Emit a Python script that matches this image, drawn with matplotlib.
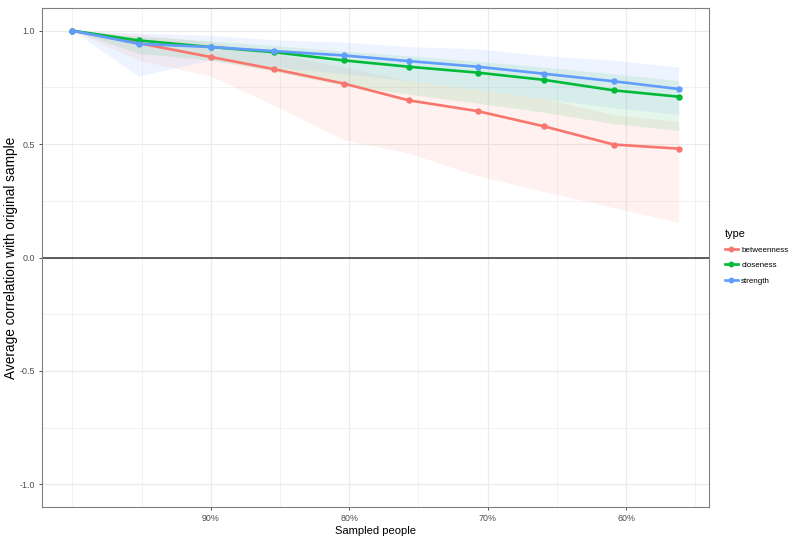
import matplotlib
matplotlib.use("Agg")
import matplotlib.pyplot as plt
from matplotlib.lines import Line2D

plt.rcParams['font.family'] = ['Liberation Sans', 'DejaVu Sans']

# Data (percent of people sampled)
sampled = [100.0, 95.2, 90.0, 85.4, 80.4, 75.7, 70.7, 65.9, 60.9, 56.2]

betweenness = [1.0, 0.945, 0.884, 0.830, 0.767, 0.693, 0.645, 0.578, 0.498, 0.480]
betweenness_lo = [1.0, 0.87, 0.80, 0.67, 0.52, 0.46, 0.36, 0.29, 0.22, 0.155]
betweenness_hi = [1.0, 0.985, 0.95, 0.90, 0.84, 0.78, 0.74, 0.70, 0.63, 0.60]

closeness = [1.0, 0.957, 0.928, 0.905, 0.869, 0.841, 0.815, 0.783, 0.737, 0.709]
closeness_lo = [1.0, 0.90, 0.87, 0.82, 0.76, 0.72, 0.68, 0.64, 0.59, 0.56]
closeness_hi = [1.0, 0.975, 0.955, 0.935, 0.91, 0.89, 0.865, 0.84, 0.81, 0.78]

strength = [1.0, 0.942, 0.928, 0.910, 0.891, 0.866, 0.841, 0.810, 0.777, 0.743]
strength_lo = [1.0, 0.80, 0.87, 0.84, 0.81, 0.78, 0.74, 0.70, 0.66, 0.63]
strength_hi = [1.0, 0.99, 0.98, 0.96, 0.95, 0.93, 0.92, 0.89, 0.87, 0.84]

types = ["betweenness", "closeness", "strength"]
colors = ["#F8766D", "#00BA38", "#619CFF"]

x_major = [90, 80, 70, 60]
x_major_labels = ["90%", "80%", "70%", "60%"]
x_minor = [100, 95, 85, 75, 65, 55]
y_major = [-1.0, -0.5, 0.0, 0.5, 1.0]
y_major_labels = ["-1.0", "-0.5", "0.0", "0.5", "1.0"]
y_minor = [-0.75, -0.25, 0.25, 0.75]

fig = plt.figure(figsize=(8.0, 5.42), dpi=100)
ax = fig.add_axes([42/800, 1-507/542, (709-42)/800, (507-8)/542])

means = [betweenness, closeness, strength]
los = [betweenness_lo, closeness_lo, strength_lo]
his = [betweenness_hi, closeness_hi, strength_hi]

# grid
for v in x_minor:
    ax.axvline(v, color="#EDEDED", lw=0.5, zorder=0)
for v in x_major:
    ax.axvline(v, color="#EBEBEB", lw=0.9, zorder=0)
for v in y_minor:
    ax.axhline(v, color="#EDEDED", lw=0.5, zorder=0)
for v in y_major:
    ax.axhline(v, color="#EBEBEB", lw=0.9, zorder=0)

for m, lo, hi, c in zip(means, los, his, colors):
    ax.fill_between(sampled, lo, hi, color=c, alpha=0.1, lw=0, zorder=1)

ax.axhline(0, color="#333333", lw=1.1, zorder=2)

for m, c, t in zip(means, colors, types):
    ax.plot(sampled, m, color=c, lw=1.9, marker="o", ms=3.6, zorder=3, label=t)

xr = max(sampled) - min(sampled)
ax.set_xlim(max(sampled) + 0.05*xr, min(sampled) - 0.05*xr)
ax.set_ylim(-1.1, 1.1)

ax.set_xticks(x_major)
ax.set_xticklabels(x_major_labels)
ax.set_yticks(y_major)
ax.set_yticklabels(y_major_labels)
ax.tick_params(axis="both", colors="#333333", labelcolor="#4D4D4D", labelsize=6.4, length=2.5, width=0.6, pad=2.5)

for s in ax.spines.values():
    s.set_color("#7F7F7F")
    s.set_linewidth(0.8)

ax.set_xlabel("Sampled people", fontsize=8, color="black", labelpad=2)
ax.set_ylabel("Average correlation with original sample", fontsize=9.8, color="black")
ax.yaxis.set_label_coords(18/800, 1 - 257.5/542, transform=fig.transFigure)

handles = [Line2D([0], [0], color=c, lw=1.9, marker="o", ms=3.2) for c in colors]
leg = fig.legend(handles, types, loc="upper left", bbox_to_anchor=(719/800, 1-223/542),
                 frameon=False, title="type", fontsize=5.8, title_fontsize=7.8,
                 handlelength=1.7, handletextpad=0.35, labelspacing=0.95, borderpad=0.2)
leg._legend_box.align = "left"

fig.savefig("out.png", dpi=100)
